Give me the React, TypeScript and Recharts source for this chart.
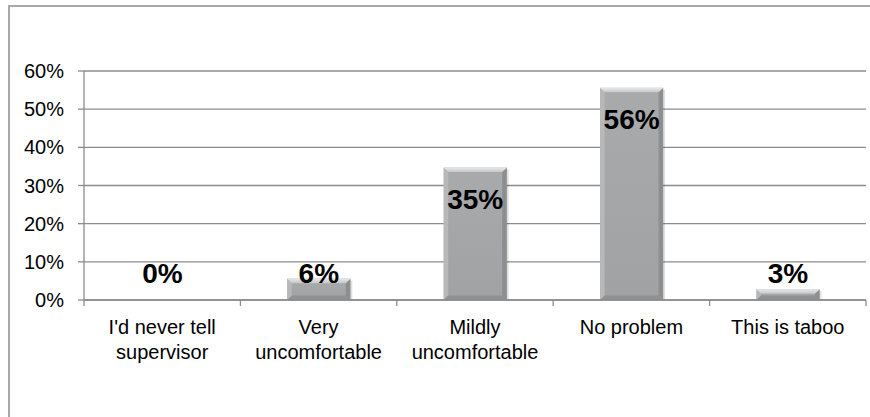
import React from "react";
import { BarChart, Bar, XAxis, YAxis, CartesianGrid } from "recharts";

const categories: string[] = [
  "I'd never tell supervisor",
  "Very uncomfortable",
  "Mildly uncomfortable",
  "No problem",
  "This is taboo",
];
const categoryLines: string[][] = [
  ["I'd never tell", "supervisor"],
  ["Very", "uncomfortable"],
  ["Mildly", "uncomfortable"],
  ["No problem"],
  ["This is taboo"],
];
const values: number[] = [0, 5.6, 34.7, 55.6, 2.8];
const yTicks: number[] = [0, 10, 20, 30, 40, 50, 60];

const data = categories.map((c, i) => ({ name: c, lines: categoryLines[i], value: values[i] }));

const FONT = '"Liberation Sans", Arial, Helvetica, sans-serif';
const AXIS = "#8c8c8c";

const BevelBar = (props: any) => {
  const { x, y, width, height } = props;
  if (!height || height <= 0.5) return null;
  const b = Math.min(4.5, height / 2, width / 2);
  return (
    <g>
      <rect x={x + 2} y={y + 2} width={width} height={height - 2} fill="#000" opacity={0.12} />
      <rect x={x} y={y} width={width} height={height} fill="url(#barBody)" />
      <polygon
        points={`${x},${y} ${x + b},${y + b} ${x + b},${y + height - b} ${x},${y + height}`}
        fill="#b6b8b9"
      />
      <polygon
        points={`${x + width},${y} ${x + width - b},${y + b} ${x + width - b},${y + height - b} ${x + width},${y + height}`}
        fill="#8c8e8f"
      />
      <polygon
        points={`${x},${y + height} ${x + b},${y + height - b} ${x + width - b},${y + height - b} ${x + width},${y + height}`}
        fill="#8f9192"
      />
      <polygon
        points={`${x},${y} ${x + width},${y} ${x + width - b},${y + b} ${x + b},${y + b}`}
        fill="url(#barTop)"
      />
    </g>
  );
};

const renderLabel = (props: any) => {
  const { x, y, width, height, value } = props;
  const base = y + height;
  const baseline = Math.min(y + 41, base - 17.5);
  return (
    <text
      x={x + width / 2}
      y={baseline}
      textAnchor="middle"
      fontFamily={FONT}
      fontWeight="bold"
      fontSize={28}
      fill="#000"
    >
      {`${Math.round(value)}%`}
    </text>
  );
};

const XTick = (props: any) => {
  const { x, y, payload, index, width } = props;
  const n = categories.length;
  const band = width ? width / n : 0;
  const lines: string[] = categoryLines[index] || [payload.value];
  const axisY = y - 8;
  return (
    <g>
      {band > 0 && (
        <line x1={x - band / 2} x2={x - band / 2} y1={axisY} y2={axisY + 6} stroke={AXIS} strokeWidth={1.3} />
      )}
      {band > 0 && index === n - 1 && (
        <line x1={x + band / 2} x2={x + band / 2} y1={axisY} y2={axisY + 6} stroke={AXIS} strokeWidth={1.3} />
      )}
      <text textAnchor="middle" fontFamily={FONT} fontSize={20} fill="#000">
        {lines.map((l, i) => (
          <tspan key={i} x={x} y={axisY + 34 + i * 24.5}>
            {l}
          </tspan>
        ))}
      </text>
    </g>
  );
};

export default function App() {
  return (
    <div style={{ position: "absolute", left: 0, top: 0, width: 870, height: 417, overflow: "hidden", background: "#fff" }}>
      <div
        style={{
          position: "absolute",
          left: 8,
          top: 5,
          width: 900,
          height: 450,
          border: "2px solid #a8a8a8",
          boxSizing: "border-box",
        }}
      />
      <div style={{ position: "absolute", left: 0, top: 0 }}>
        <BarChart
          width={870}
          height={417}
          data={data}
          margin={{ top: 71, right: 4, left: 0, bottom: 0 }}
          barCategoryGap="30%"
        >
          <defs>
            <linearGradient id="barBody" x1="0" y1="0" x2="0" y2="1">
              <stop offset="0%" stopColor="#a8aaab" />
              <stop offset="100%" stopColor="#a0a2a3" />
            </linearGradient>
            <linearGradient id="barTop" x1="0" y1="0" x2="0" y2="1">
              <stop offset="0%" stopColor="#e8e9ea" />
              <stop offset="100%" stopColor="#c4c6c7" />
            </linearGradient>
          </defs>
          <CartesianGrid vertical={false} stroke={AXIS} strokeWidth={1.3} />
          <XAxis
            dataKey="name"
            height={117}
            interval={0}
            axisLine={{ stroke: AXIS, strokeWidth: 1.3 }}
            tickLine={false}
            tickSize={6}
            tickMargin={2}
            tick={<XTick />}
          />
          <YAxis
            width={84}
            domain={[0, 60]}
            ticks={yTicks}
            interval={0}
            tickFormatter={(v: number) => `${v}%`}
            axisLine={{ stroke: AXIS, strokeWidth: 1.3 }}
            tickLine={{ stroke: AXIS, strokeWidth: 1.3 }}
            tickSize={6}
            tickMargin={14}
            tick={{ fontFamily: FONT, fontSize: 20, fill: "#000" }}
          />
          <Bar dataKey="value" isAnimationActive={false} shape={<BevelBar />} label={renderLabel} />
        </BarChart>
      </div>
    </div>
  );
}
